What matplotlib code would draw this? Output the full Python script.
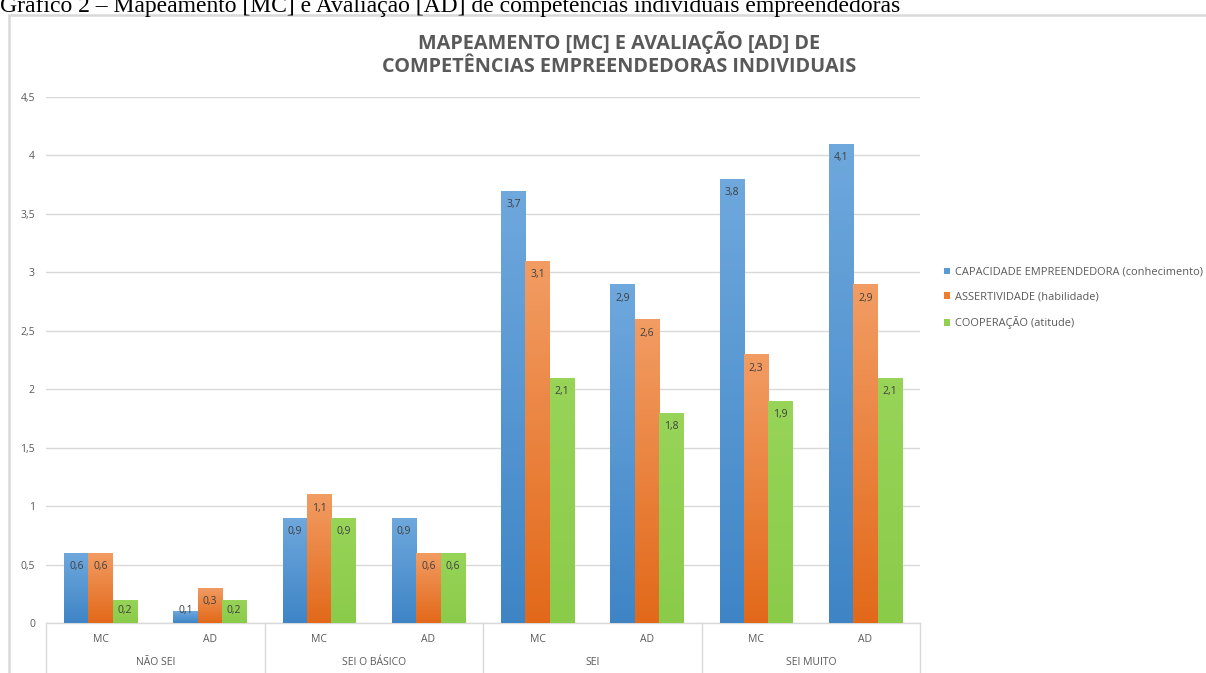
import matplotlib.pyplot as plt
import matplotlib.colors as mcolors
from matplotlib.patches import Patch, Rectangle
import numpy as np

# dados do gráfico
grupos = ["NÃO SEI", "SEI O BÁSICO", "SEI", "SEI MUITO"]
tipos = ["MC", "AD"]
series = ["CAPACIDADE EMPREENDEDORA (conhecimento)",
          "ASSERTIVIDADE (habilidade)",
          "COOPERAÇÃO (atitude)"]
capacidade = [0.6, 0.1, 0.9, 0.9, 3.7, 2.9, 3.8, 4.1]
assertividade = [0.6, 0.3, 1.1, 0.6, 3.1, 2.6, 2.3, 2.9]
cooperacao = [0.2, 0.2, 0.9, 0.6, 2.1, 1.8, 1.9, 2.1]

cores = ["#5B9BD5", "#ED7D31", "#92D050"]
# degradê de cada série (base -> topo)
degrades = [("#3F85C6", "#6EA8DD"), ("#E2691A", "#F29C63"), ("#8BCB4A", "#97D458")]

plt.rcParams['font.family'] = ['Open Sans', 'DejaVu Sans']
cinza = "#595959"
linha = "#D9D9D9"

W, H = 1206, 673
fig = plt.figure(figsize=(W / 100, H / 100), dpi=100)
fig.patch.set_facecolor("white")

# moldura do gráfico
fig.add_artist(Rectangle((9 / W, -0.1), 1.5, (H - 15) / H + 0.1, transform=fig.transFigure,
                         fill=False, edgecolor=linha, lw=1.8))

fig.text(0.0, 1 - 12 / H,
         "Gráfico 2 – Mapeamento [MC] e Avaliação [AD] de competências individuais empreendedoras",
         family="Liberation Serif", fontsize=17, va="baseline", ha="left", color="black")

fig.text(619 / W, 1 - 42 / H, "MAPEAMENTO [MC] E AVALIAÇÃO [AD] DE", fontsize=14.3,
         fontweight="bold", color=cinza, ha="center", va="center")
fig.text(619 / W, 1 - 67 / H, "COMPETÊNCIAS EMPREENDEDORAS INDIVIDUAIS", fontsize=14.3,
         fontweight="bold", color=cinza, ha="center", va="center")

ax = fig.add_axes([46 / W, (H - 623) / H, 874 / W, 526 / H])
n = len(capacidade)
x = np.arange(n)
w = 0.223

for i, vals in enumerate([capacidade, assertividade, cooperacao]):
    barras = ax.bar(x + (i - 1) * w, vals, w, color=cores[i], zorder=2)
    cmap = mcolors.LinearSegmentedColormap.from_list("g%d" % i, degrades[i])
    grad = np.linspace(0, 1, 64).reshape(-1, 1)
    for b, v in zip(barras, vals):
        x0 = b.get_x()
        im = ax.imshow(grad, extent=[x0, x0 + w, 0, v], origin="lower", aspect="auto",
                       cmap=cmap, zorder=2.5)
        im.set_clip_path(b)
        ax.text(x0 + w / 2, max(v - 0.12, 0.11), f"{v:.1f}".replace(".", ","),
                ha="center", va="center", fontsize=7.5, color="#404040", zorder=3)

ax.set_xlim(-0.5, n - 0.5)
ax.set_ylim(0, 4.5)
ticks = np.arange(0, 4.51, 0.5)
ax.set_yticks(ticks)
ax.set_yticklabels([f"{t:g}".replace(".", ",") for t in ticks])
ax.tick_params(axis="y", length=0, pad=8, labelsize=7.5, labelcolor=cinza)
ax.set_xticks([])
for s in ax.spines.values():
    s.set_visible(False)
ax.yaxis.grid(True, color=linha, lw=1)
ax.set_axisbelow(True)

# rótulos de categoria em dois níveis
trans = ax.get_xaxis_transform()
for k in range(n):
    ax.text(k, -0.032, tipos[k % 2], transform=trans, ha="center", va="center",
            fontsize=7.5, color=cinza)
for g, nome in enumerate(grupos):
    ax.text(2 * g + 0.5, -0.076, nome, transform=trans, ha="center", va="center",
            fontsize=7.5, color=cinza)
for xs in np.arange(-0.5, n, 2):
    ax.plot([xs, xs], [0, -0.2], transform=trans, color=linha, lw=1, clip_on=False)
ax.plot([-0.5, n - 0.5], [0, 0], transform=trans, color=linha, lw=1, clip_on=False)

alcas = [Patch(facecolor=c, edgecolor="none") for c in cores]
fig.legend(alcas, series, loc="upper left", bbox_to_anchor=(934 / W, 1 - 257 / H),
           frameon=False, fontsize=7.9, handlelength=0.6, handleheight=0.6,
           handletextpad=0.4, labelspacing=1.25, labelcolor=cinza)

fig.savefig("out.png", dpi=100, facecolor="white")
